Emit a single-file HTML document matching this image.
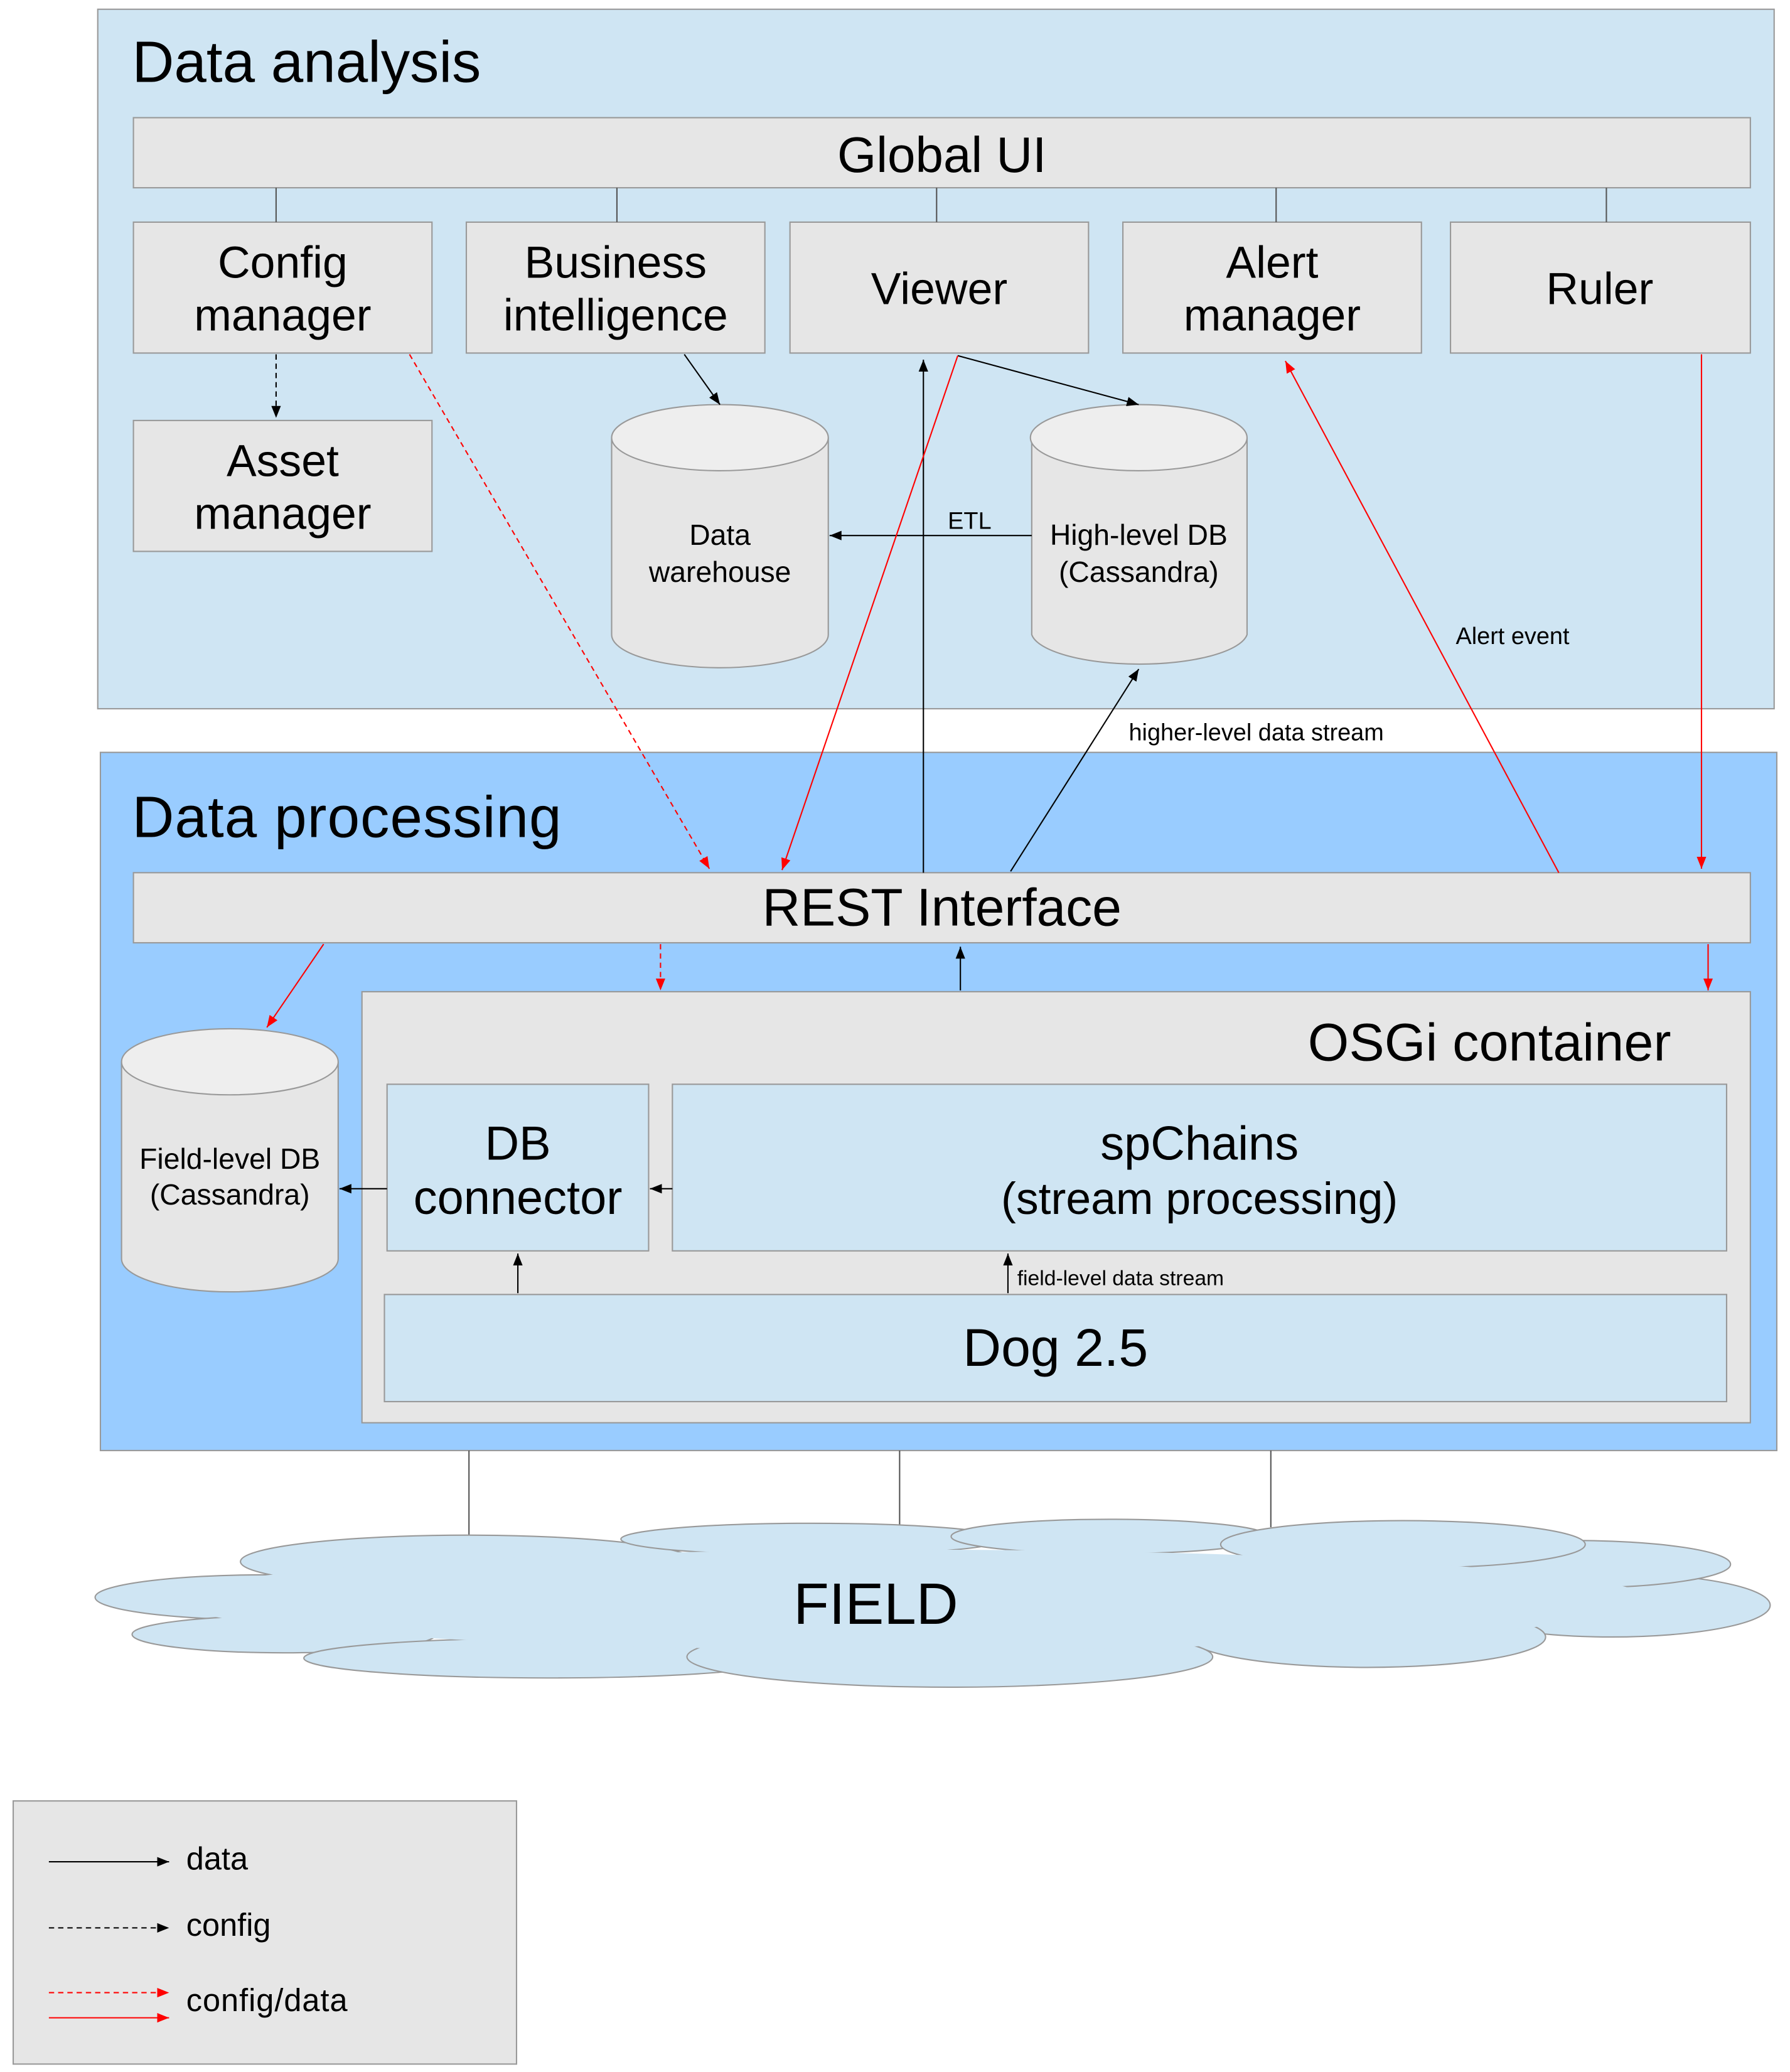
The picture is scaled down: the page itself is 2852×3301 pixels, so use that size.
<!DOCTYPE html>
<html><head><meta charset="utf-8"><style>html,body{margin:0;padding:0;background:#fff}svg{display:block}text{font-family:"Liberation Sans",sans-serif;fill:#000}</style></head><body>
<svg width="2852" height="3301" viewBox="0 0 1355 1567" preserveAspectRatio="none" xmlns="http://www.w3.org/2000/svg">
<defs>
<marker id="ab" viewBox="0 0 10 10" refX="10" refY="5" markerWidth="9" markerHeight="9" markerUnits="userSpaceOnUse" orient="auto"><path d="M0,1 L10,5 L0,9 z" fill="#000"/></marker>
<marker id="ar" viewBox="0 0 10 10" refX="10" refY="5" markerWidth="9" markerHeight="9" markerUnits="userSpaceOnUse" orient="auto"><path d="M0,1 L10,5 L0,9 z" fill="#f00"/></marker>
</defs>
<g stroke="#999" stroke-width="1">
<rect x="74" y="7" width="1269" height="529" fill="#cfe5f3"/>
<rect x="101" y="89" width="1224" height="53" fill="#e6e6e6"/>
<rect x="101" y="168" width="226" height="99" fill="#e6e6e6"/>
<rect x="353" y="168" width="226" height="99" fill="#e6e6e6"/>
<rect x="598" y="168" width="226" height="99" fill="#e6e6e6"/>
<rect x="850" y="168" width="226" height="99" fill="#e6e6e6"/>
<rect x="1098" y="168" width="227" height="99" fill="#e6e6e6"/>
<rect x="101" y="318" width="226" height="99" fill="#e6e6e6"/>
<path d="M463,331 L463,480 A82,25 0 0 0 627,480 L627,331" fill="#e6e6e6"/>
<ellipse cx="545" cy="331" rx="82" ry="25" fill="#eee"/>
<path d="M781,331 L781,480 A82,25 0 0 0 944,480 L944,331" fill="#e6e6e6"/>
<ellipse cx="862" cy="331" rx="82" ry="25" fill="#eee"/>
<rect x="76" y="569" width="1269" height="528" fill="#99ccff"/>
<rect x="101" y="660" width="1224" height="53" fill="#e6e6e6"/>
<rect x="274" y="750" width="1051" height="326" fill="#e6e6e6"/>
<rect x="293" y="820" width="198" height="126" fill="#cfe5f3"/>
<rect x="509" y="820" width="798" height="126" fill="#cfe5f3"/>
<rect x="291" y="979" width="1016" height="81" fill="#cfe5f3"/>
<path d="M92,803 L92,952 A82,25 0 0 0 256,952 L256,803" fill="#e6e6e6"/>
<ellipse cx="174" cy="803" rx="82" ry="25" fill="#eee"/>
<rect x="10" y="1362" width="381" height="199" fill="#e6e6e6"/>
</g>
<g stroke="#555" stroke-width="1">
<line x1="209" y1="142" x2="209" y2="168"/><line x1="467" y1="142" x2="467" y2="168"/><line x1="709" y1="142" x2="709" y2="168"/><line x1="966" y1="142" x2="966" y2="168"/><line x1="1216" y1="142" x2="1216" y2="168"/>
<line x1="355" y1="1097" x2="355" y2="1165"/><line x1="681" y1="1097" x2="681" y2="1160"/><line x1="962" y1="1097" x2="962" y2="1155"/>
</g>
<g stroke="#999" fill="#cfe5f3">
<ellipse cx="200" cy="1208" rx="128" ry="17"/>
<ellipse cx="215" cy="1236" rx="115" ry="14"/>
<ellipse cx="1220" cy="1214" rx="120" ry="24"/>
<ellipse cx="1190" cy="1183" rx="120" ry="18"/>
<ellipse cx="354" cy="1181" rx="172" ry="20"/>
<ellipse cx="415" cy="1254" rx="185" ry="15"/>
<ellipse cx="615" cy="1164" rx="145" ry="12"/>
<ellipse cx="840" cy="1162" rx="120" ry="13"/>
<ellipse cx="1062" cy="1168" rx="138" ry="18"/>
<ellipse cx="1035" cy="1238" rx="135" ry="23"/>
<ellipse cx="719" cy="1253" rx="199" ry="23"/>
</g>
<ellipse cx="690" cy="1210" rx="560" ry="38" fill="#cfe5f3"/>
<g stroke="#000" stroke-width="1" fill="none">
<line x1="209" y1="268" x2="209" y2="316" stroke-dasharray="4,3" marker-end="url(#ab)"/>
<line x1="518" y1="268" x2="545" y2="306" marker-end="url(#ab)"/>
<line x1="725" y1="269" x2="862" y2="306" marker-end="url(#ab)"/>
<line x1="781" y1="405" x2="628" y2="405" marker-end="url(#ab)"/>
<line x1="699" y1="660" x2="699" y2="272" marker-end="url(#ab)"/>
<line x1="765" y1="659" x2="862" y2="506" marker-end="url(#ab)"/>
<line x1="727" y1="749" x2="727" y2="716" marker-end="url(#ab)"/>
<line x1="509" y1="899" x2="492" y2="899" marker-end="url(#ab)"/>
<line x1="293" y1="899" x2="257" y2="899" marker-end="url(#ab)"/>
<line x1="392" y1="978" x2="392" y2="948" marker-end="url(#ab)"/>
<line x1="763" y1="978" x2="763" y2="948" marker-end="url(#ab)"/>
<line x1="37" y1="1408" x2="128" y2="1408" marker-end="url(#ab)"/>
<line x1="37" y1="1458" x2="128" y2="1458" stroke-dasharray="4,3" marker-end="url(#ab)"/>
</g>
<g stroke="#f00" stroke-width="1" fill="none">
<line x1="725" y1="269" x2="592" y2="658" marker-end="url(#ar)"/>
<line x1="310" y1="268" x2="537" y2="657" stroke-dasharray="4,3" marker-end="url(#ar)"/>
<line x1="1180" y1="660" x2="973" y2="273" marker-end="url(#ar)"/>
<line x1="1288" y1="268" x2="1288" y2="657" marker-end="url(#ar)"/>
<line x1="245" y1="714" x2="202" y2="777" marker-end="url(#ar)"/>
<line x1="500" y1="714" x2="500" y2="749" stroke-dasharray="4,3" marker-end="url(#ar)"/>
<line x1="1293" y1="714" x2="1293" y2="749" marker-end="url(#ar)"/>
<line x1="37" y1="1507" x2="128" y2="1507" stroke-dasharray="4,3" marker-end="url(#ar)"/>
<line x1="37" y1="1526" x2="128" y2="1526" marker-end="url(#ar)"/>
</g>
<text x="100" y="62" font-size="44">Data analysis</text>
<text x="100" y="633" font-size="44" textLength="325">Data processing</text>
<g text-anchor="middle">
<text x="713" y="130" font-size="38">Global UI</text>
<text x="214" y="210" font-size="34">Config</text><text x="214" y="250" font-size="34">manager</text>
<text x="466" y="210" font-size="34">Business</text><text x="466" y="250" font-size="34">intelligence</text>
<text x="711" y="230" font-size="34">Viewer</text>
<text x="963" y="210" font-size="34">Alert</text><text x="963" y="250" font-size="34">manager</text>
<text x="1211" y="230" font-size="34">Ruler</text>
<text x="214" y="360" font-size="34">Asset</text><text x="214" y="400" font-size="34">manager</text>
<text x="545" y="412" font-size="22">Data</text><text x="545" y="440" font-size="22">warehouse</text>
<text x="862" y="412" font-size="22">High-level DB</text><text x="862" y="440" font-size="22">(Cassandra)</text>
<text x="734" y="400" font-size="18">ETL</text>
<text x="1145" y="487" font-size="18">Alert event</text>
<text x="951" y="560" font-size="18">higher-level data stream</text>
<text x="713" y="700" font-size="40" textLength="272">REST Interface</text>
<text x="392" y="877" font-size="36">DB</text><text x="392" y="918" font-size="36">connector</text>
<text x="908" y="877" font-size="36">spChains</text><text x="908" y="918" font-size="34">(stream processing)</text>
<text x="799" y="1033" font-size="40">Dog 2.5</text>
<text x="174" y="884" font-size="22">Field-level DB</text><text x="174" y="911" font-size="22">(Cassandra)</text>
<text x="663" y="1228" font-size="44">FIELD</text>
</g>
<text x="1265" y="802" font-size="40" text-anchor="end" textLength="275">OSGi container</text>
<text x="770" y="972" font-size="16">field-level data stream</text>
<text x="141" y="1414" font-size="24">data</text>
<text x="141" y="1464" font-size="24">config</text>
<text x="141" y="1521" font-size="24" textLength="122">config/data</text>
</svg>
</body></html>
